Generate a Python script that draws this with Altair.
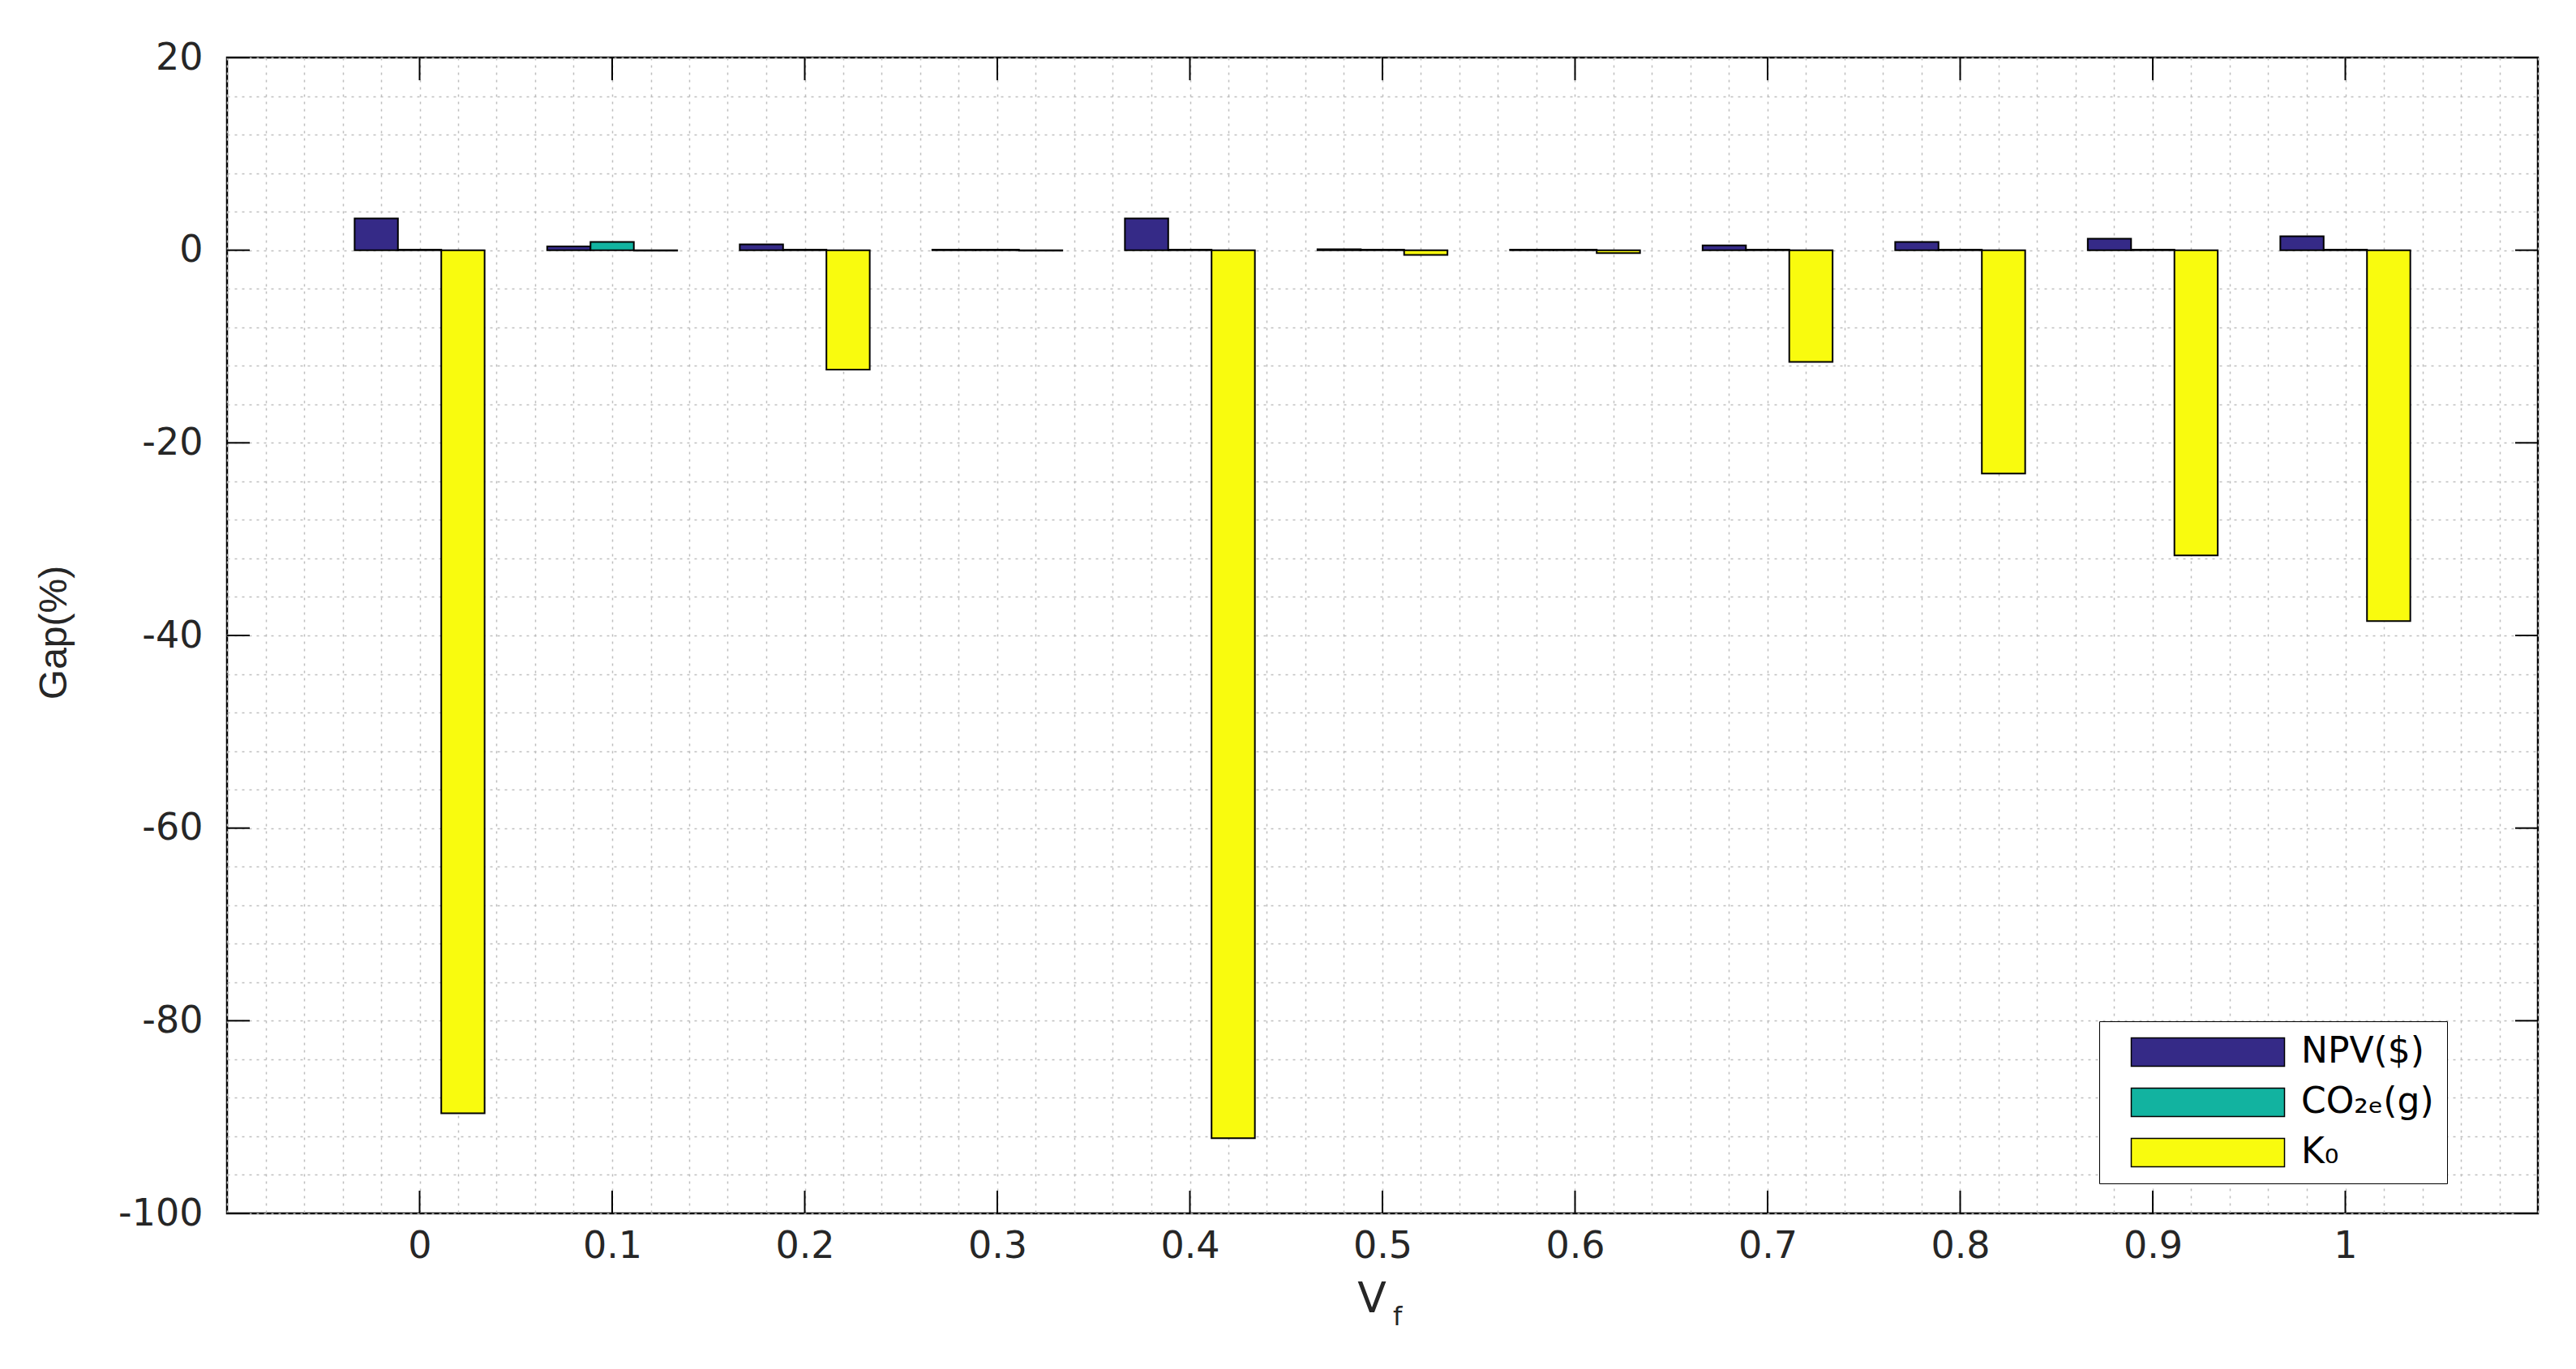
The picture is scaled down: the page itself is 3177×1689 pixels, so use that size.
import altair as alt
import pandas as pd

# ---- data ----
vf = [0.0, 0.1, 0.2, 0.3, 0.4, 0.5, 0.6, 0.7, 0.8, 0.9, 1.0]
npv = [3.3, 0.4, 0.6, 0.05, 3.3, 0.1, 0.05, 0.5, 0.85, 1.2, 1.45]
co2 = [0.05, 0.85, 0.05, 0.05, 0.05, 0.05, 0.05, 0.05, 0.05, 0.05, 0.05]
k0 = [-89.6, -0.05, -12.4, -0.05, -92.2, -0.5, -0.3, -11.6, -23.2, -31.7, -38.5]
series = ["NPV($)", "CO₂ₑ(g)", "K₀"]
colors = ["#352A87", "#12B3A0", "#F9FB0E"]
x_tick_values = [0.0, 0.1, 0.2, 0.3, 0.4, 0.5, 0.6, 0.7, 0.8, 0.9, 1.0]
y_tick_values = [-100, -80, -60, -40, -20, 0, 20]

W, H = 2850, 1426
FONT = "DejaVu Sans"
TFONT = "Liberation Sans"

rows = []
for i, v in enumerate(vf):
    for idx, (name, vals) in enumerate(zip(series, [npv, co2, k0])):
        rows.append({"vf": v, "series": name, "idx": idx, "gap": vals[i]})
df = pd.DataFrame(rows)

x_grid = [round(-0.1 + 0.02 * i, 2) for i in range(61)]
y_grid = [-100 + 2 * i for i in range(61)]

xscale = alt.Scale(domain=[-0.1, 1.1], nice=False, zero=False)
yscale = alt.Scale(domain=[-100, 20], nice=False)

bars = alt.Chart(df).transform_calculate(
    x1="datum.vf + (datum.idx - 1.5) * 0.0225",
    x2="datum.vf + (datum.idx - 0.5) * 0.0225",
).mark_bar(stroke="black", strokeWidth=2).encode(
    x=alt.X("x1:Q", scale=xscale, axis=alt.Axis(
        values=x_grid, title=None, grid=True, ticks=False, domain=False,
        labelExpr="(abs(datum.value*10 - round(datum.value*10)) < 0.001 && datum.value > -0.001 && datum.value < 1.001) ? format(datum.value, '~g') : ''",
        labelFont=FONT, labelFontSize=46, labelColor="#262626", labelPadding=18,
        labelOverlap=False, labelFlush=False,
    )),
    x2="x2:Q",
    y=alt.Y("gap:Q", scale=yscale, axis=alt.Axis(
        values=y_grid, title="Gap(%)", grid=True, ticks=False, domain=False,
        labelExpr="datum.value % 20 == 0 ? '' + datum.value : ''",
        labelFont=FONT, labelFontSize=46, labelColor="#262626", labelPadding=30,
        labelOverlap=False, labelFlush=False,
        titleFont=TFONT, titleFontSize=48, titleFontWeight="normal", titleColor="#262626",
        titleX=-213, titleY=709, titleAngle=270, titleAlign="center", titleBaseline="middle",
    )),
    y2=alt.datum(0),
    color=alt.Color("series:N", scale=alt.Scale(domain=series, range=colors), legend=alt.Legend(
        orient="none", legendX=2309, legendY=1189, title=None,
        fillColor="white", strokeColor="black", padding=16,
        symbolType="M-1,-1H9.8V1H-1Z", symbolSize=1225,
        symbolStrokeColor="black", symbolStrokeWidth=1.5, symbolOffset=19,
        labelFont=FONT, labelFontSize=44, labelColor="black", labelOffset=170,
        labelLimit=500, rowPadding=18,
    )),
)

xt = pd.DataFrame({"vf": x_tick_values})
yt = pd.DataFrame({"v": y_tick_values})
tick_b = alt.Chart(xt).mark_rule(color="black", strokeWidth=2).encode(
    x=alt.X("vf:Q", scale=xscale), y=alt.value(H), y2=alt.value(H - 28))
tick_t = alt.Chart(xt).mark_rule(color="black", strokeWidth=2).encode(
    x=alt.X("vf:Q", scale=xscale), y=alt.value(0), y2=alt.value(28))
tick_l = alt.Chart(yt).mark_rule(color="black", strokeWidth=2).encode(
    y=alt.Y("v:Q", scale=yscale), x=alt.value(0), x2=alt.value(28))
tick_r = alt.Chart(yt).mark_rule(color="black", strokeWidth=2).encode(
    y=alt.Y("v:Q", scale=yscale), x=alt.value(W), x2=alt.value(W - 28))

vtxt = alt.Chart(pd.DataFrame({"t": ["V"]})).mark_text(
    font=FONT, fontSize=52, color="#262626", align="center", baseline="alphabetic"
).encode(text="t:N", x=alt.value(1412), y=alt.value(1548))
ftxt = alt.Chart(pd.DataFrame({"t": ["f"]})).mark_text(
    font=FONT, fontSize=32, color="#262626", align="left", baseline="alphabetic"
).encode(text="t:N", x=alt.value(1438), y=alt.value(1564))

chart = alt.layer(bars, tick_b, tick_t, tick_l, tick_r, vtxt, ftxt).properties(
    width=W, height=H,
    padding={"left": 272, "top": 63, "right": 20, "bottom": 150},
    autosize=alt.AutoSizeParams(type="none"),
).configure_view(
    stroke="black", strokeWidth=2.5
).configure_axis(
    gridColor="#BEBEBE", gridDash=[3, 6], gridWidth=1.5, gridOpacity=1
)

chart.save("out.html", embed_options={"renderer": "svg", "actions": False})
